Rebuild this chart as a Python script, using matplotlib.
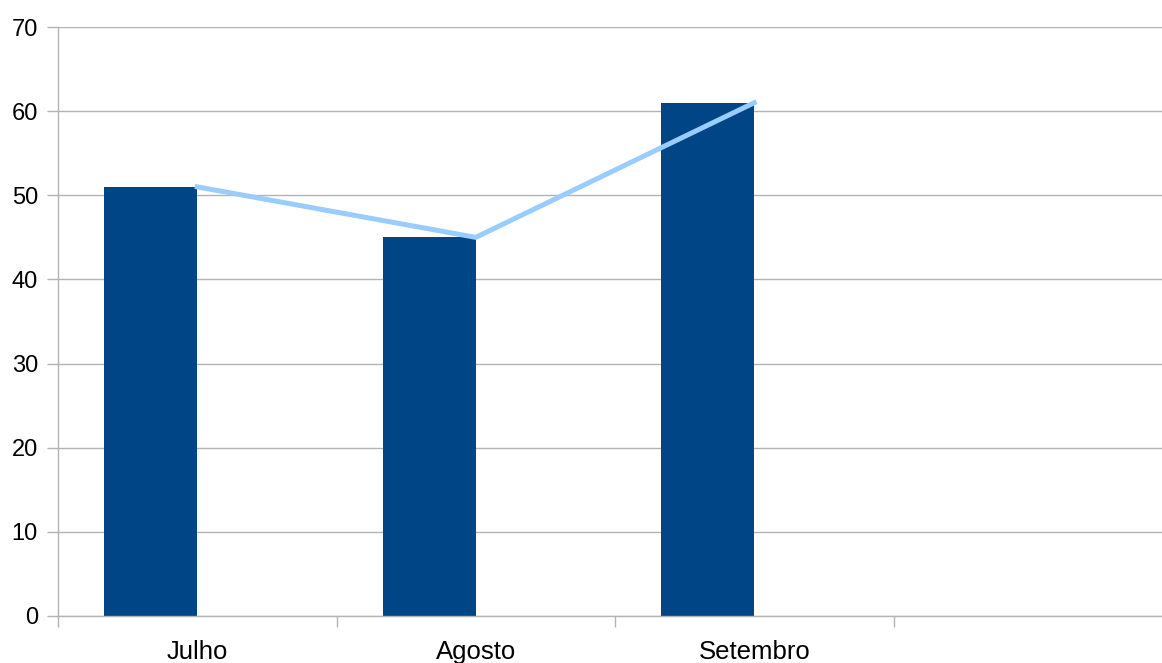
import numpy as np
import matplotlib.pyplot as plt

months = ["Julho", "Agosto", "Setembro", ""]
bar_values = [51, 45, 61]
line_values = [51, 45, 61]

BAR_COLOR = "#004586"
LINE_COLOR = "#99ccff"
GRID_COLOR = "#b3b3b3"


def plot_graph():
    fig = plt.figure(figsize=(11.62, 6.63), dpi=100)
    # plot area runs a little past the right edge of the image
    ax = fig.add_axes([58 / 1162, 1 - 616 / 663, (1172 - 58) / 1162, (616 - 27) / 663])

    x = np.arange(len(bar_values))
    ax.bar(x, bar_values, width=-0.334, align="edge", color=BAR_COLOR, zorder=2)
    ax.plot(x, line_values, color=LINE_COLOR, linewidth=3.6, zorder=3,
            solid_joinstyle="miter")

    ax.set_xlim(-0.5, len(months) - 0.5)
    ax.set_ylim(0, 70)
    ax.set_yticks(np.arange(0, 71, 10))
    ax.yaxis.grid(True, color=GRID_COLOR, linewidth=1)
    ax.set_axisbelow(True)

    # category labels at centers, tick marks at boundaries
    ax.set_xticks(np.arange(len(months)))
    ax.set_xticklabels(months)
    ax.set_xticks(np.arange(len(months) + 1) - 0.5, minor=True)
    ax.tick_params(axis="x", which="major", length=0, pad=17, labelsize=18.5)
    ax.tick_params(axis="x", which="minor", length=8, color=GRID_COLOR, width=1)
    ax.tick_params(axis="y", length=8, color=GRID_COLOR, width=1, pad=6.5,
                   labelsize=17)

    for side in ["top", "right"]:
        ax.spines[side].set_visible(False)
    for side in ["left", "bottom"]:
        ax.spines[side].set_color(GRID_COLOR)
        ax.spines[side].set_linewidth(1)

    for label in ax.get_xticklabels() + ax.get_yticklabels():
        label.set_fontfamily("Liberation Sans")

    fig.savefig("out.png", dpi=100)


def main():
    plot_graph()


if __name__ == "__main__":
    main()
